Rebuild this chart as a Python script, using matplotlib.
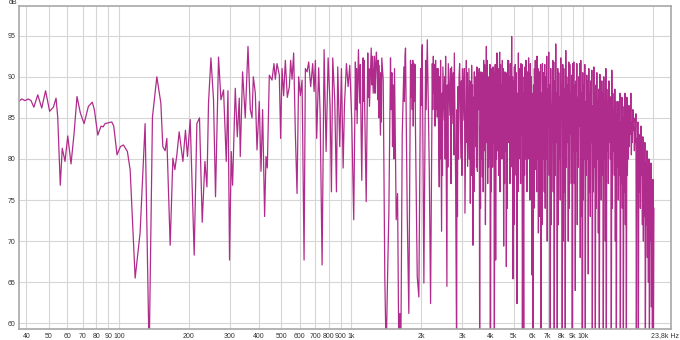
import matplotlib
matplotlib.use("Agg")
import matplotlib.pyplot as plt

plt.rcParams['font.family'] = ['Liberation Sans', 'DejaVu Sans']

# frequency response (Hz, dB)
low_hz = [37.2, 38.2, 39.5, 40.8, 41.9, 43.1, 44.8, 46.6, 48.4, 50.4, 52.3, 53.7,
          54.6, 56.0, 57.1, 58.7, 60.3, 62.3, 64.2, 66.1, 68.3, 70.9, 74.0, 76.9,
          78.5, 81.2, 83.9, 85.6, 87.3, 93.3, 95.1, 98.3, 101.6, 104.7, 108.9,
          111.9, 117.6, 123.5, 129.8, 135.1, 139.6, 145.8, 151.7, 154.7, 158.3,
          161.0, 166.4, 170.9, 174.3, 177.8, 181.9, 188.8, 193.6, 197.5, 202.9,
          211.1, 216.8, 222.5, 228.6, 234.8, 239.5, 243.3, 249.2, 255.7, 260.8,
          268.7, 275.2, 282.4, 290.1, 295.0, 299.7]
low_db = [87.0, 87.3, 87.1, 87.3, 87.1, 86.3, 87.8, 86.2, 88.3, 85.8, 86.3, 87.4,
          85.1, 76.8, 81.3, 79.7, 82.8, 79.4, 83.1, 87.6, 85.6, 84.3, 86.4, 86.9,
          86.0, 82.9, 84.0, 83.9, 84.3, 84.5, 84.0, 80.5, 81.5, 81.7, 80.9,
          78.7, 65.5, 71.0, 84.3, 56.0, 85.1, 90.0, 86.8, 81.5, 81.0,
          82.5, 69.5, 80.1, 78.7, 80.5, 83.3, 79.7, 83.5, 80.3, 84.8,
          68.3, 84.3, 85.0, 72.3, 79.7, 76.6, 86.8, 92.3, 87.2, 75.4,
          92.4, 87.2, 88.4, 79.7, 88.3, 67.7]

mid_hz = [304.8, 308.8, 317.2, 323.6, 330.0, 333.3, 341.0, 350.2, 359.8, 368.1,
          374.4, 379.3, 386.9, 393.4, 402.4, 409.3, 415.9, 424.2, 430.1, 435.7,
          444.4, 456.5, 465.6, 471.7, 479.7, 490.8, 497.2, 504.2, 512.3, 520.9,
          531.3, 542.1, 549.1, 556.8, 565.7, 575.3, 585.0, 594.4, 604.6, 614.9,
          627.2, 635.3, 646.1, 656.5, 669.8, 683.2, 692.7, 701.7, 710.8, 725.0,
          735.3, 749.9, 764.9, 780.2, 796.0, 811.9, 822.5, 833.2, 849.9, 864.5,
          875.7, 893.3, 908.3, 923.7, 935.6, 954.3, 970.7, 986.3, 1006, 1026,
          1043, 1061, 1075, 1089, 1111, 1126, 1144, 1161, 1179, 1199, 1220, 1244,
          1260, 1285, 1302, 1320, 1337, 1355, 1374, 1396, 1415, 1434, 1453, 1477,
          1507, 1537, 1563, 1584, 1604, 1620, 1636, 1659, 1686, 1714, 1743, 1771,
          1801, 1832, 1861, 1893, 1925, 1956, 1990, 2023, 2056, 2091, 2127, 2169,
          2197, 2235, 2270, 2309, 2348, 2395]
mid_db = [80.9, 76.8, 88.6, 82.7, 87.4, 80.3, 90.6, 85.0, 93.7, 86.0,
          85.0, 90.0, 88.0, 81.1, 87.0, 78.5, 86.0, 73.0, 80.3, 78.9,
          90.2, 89.6, 91.6, 89.7, 91.6, 90.2, 82.5, 91.0, 87.7, 92.0,
          87.5, 88.8, 92.0, 89.7, 92.9, 83.1, 75.8, 90.0, 87.7, 89.6,
          67.7, 91.0, 90.6, 91.8, 88.8, 91.6, 88.2, 92.0, 82.5, 91.1,
          85.6, 67.1, 93.3, 80.9, 92.3, 86.4, 76.0, 92.3, 87.2, 76.0,
          91.2, 81.5, 91.0, 78.9, 86.4, 91.6, 88.8, 91.4, 84.7, 72.6,
          91.8, 84.3, 93.3, 86.8, 77.4, 92.3, 86.0, 74.8, 92.9, 86.4, 93.5, 88.0,
          92.5, 93.0, 87.2, 91.4, 82.9, 92.3, 89.6, 65.5, 56.0, 65.4, 73.4, 92.3,
          81.5, 91.0, 72.6, 75.8, 56.0, 61.2, 56.0, 82.9, 91.2, 93.5, 73.4, 61.2,
          92.0, 86.0, 91.6, 82.7, 65.7, 63.2, 91.0, 93.9, 64.9, 92.0, 94.5, 78.7,
          62.4, 91.6, 88.0, 92.0, 85.1, 76.6]

# extra wiggles between 1k and 2.4k
mid_wiggle_hz = [1049, 1055, 1096, 1103, 1132, 1138, 1186, 1192,
                 1228, 1236, 1268, 1276, 1308, 1314, 1343, 1349,
                 1487, 1497, 1517, 1527, 1695, 1705, 1811, 1821,
                 1842, 1851, 1872, 1882, 2001, 2012, 2103, 2115,
                 2246, 2258, 2283, 2296, 2322, 2335, 2364, 2379,
                 2405, 2415]
mid_wiggle_db = [86.0, 91.0, 91.5, 84.0, 87.0, 92.0, 87.5, 91.0,
                 89.0, 92.5, 88.0, 91.5, 92.0, 85.0, 90.5, 84.5,
                 86.0, 90.5, 89.0, 80.0, 87.0, 92.5, 87.5, 91.5,
                 92.0, 84.0, 87.0, 91.5, 86.5, 92.0, 86.0, 90.5,
                 86.0, 92.5, 91.5, 84.0, 86.0, 91.0, 91.0, 83.0,
                 90.0, 80.0]

upper_hz = [2426, 2450, 2482, 2517, 2550, 2583, 2619, 2661, 2706, 2741, 2780,
            2816, 2844, 2881, 2930, 2968, 3010, 3058, 3089, 3132, 3172, 3213,
            3258, 3300, 3343, 3390, 3434, 3478, 3527, 3573, 3619, 3671, 3718,
            3767, 3819, 3869, 3919, 3974, 4025, 4077, 4135, 4188, 4242, 4301,
            4357, 4413, 4475, 4533, 4592, 4656, 4717, 4778, 4845, 4908, 4973,
            5042, 5108, 5174, 5246, 5314, 5383, 5459, 5492, 5530, 5602, 5680,
            5754, 5829, 5910, 5987, 6065, 6149, 6229, 6310, 6397, 6480, 6564,
            6656, 6763]
upper_db = [92.0, 71.2, 91.2, 84.7, 92.5, 64.5, 91.6, 85.3, 91.2, 84.3, 92.9,
            77.4, 56.0, 88.8, 91.6, 80.1, 91.0, 84.7, 73.4, 92.0, 79.1, 91.0,
            74.6, 91.4, 69.5, 90.6, 81.5, 91.2, 88.8, 56.0, 90.6, 77.8, 92.0,
            88.8, 93.7, 77.0, 88.8, 56.0, 83.9, 91.2, 56.0, 67.7, 92.9, 87.2,
            93.0, 84.7, 92.0, 69.4, 90.6, 66.9, 92.0, 84.7, 91.6, 94.9, 65.4,
            91.2, 83.5, 62.4, 92.9, 85.3, 91.6, 56.0, 88.0, 56.0, 91.2, 88.8,
            90.6, 84.7, 91.6, 65.9, 56.0, 91.0, 78.7, 92.5, 71.0, 90.6, 56.0,
            91.6, 84.7]

# extra wiggles between the readings above (2.4k - 6.8k is very busy)
wiggle_hz = [2461, 2471, 2528, 2539, 2595, 2607, 2676, 2691,
             2754, 2767, 2856, 2868, 2897, 2913, 2982, 2996,
             3068, 3078, 3145, 3158, 3228, 3243, 3272, 3286,
             3314, 3328, 3359, 3374, 3405, 3420, 3449, 3463,
             3494, 3511, 3542, 3558, 3588, 3604, 3636, 3654,
             3687, 3702, 3734, 3751, 3784, 3802, 3836, 3852,
             3886, 3902, 3937, 3956, 3991, 4008, 4042, 4060,
             4096, 4116, 4153, 4170, 4206, 4224, 4262, 4281,
             4320, 4338, 4376, 4394, 4434, 4454, 4494, 4514,
             4553, 4572, 4613, 4635, 4676, 4697, 4737, 4758,
             4800, 4822, 4866, 4887, 4930, 4951, 4996, 5019,
             5064, 5086, 5130, 5152, 5198, 5222, 5269, 5291,
             5337, 5360, 5408, 5434, 5554, 5578, 5628, 5654,
             5705, 5730, 5779, 5804, 5856, 5883, 5936, 5961,
             6013, 6039, 6093, 6121, 6176, 6202, 6256, 6283,
             6339, 6368, 6425, 6452, 6508, 6536, 6595, 6625,
             6692, 6728, 6778, 6794]
wiggle_db = [88.0, 78.0, 90.0, 80.0, 89.0, 79.0, 91.0, 77.0,
             90.5, 80.5, 86.0, 73.0, 80.0, 90.0, 89.5, 78.0,
             91.0, 86.0, 82.0, 90.5, 80.0, 89.5, 88.5, 78.0,
             80.0, 89.0, 87.5, 76.0, 83.0, 90.0, 89.5, 79.0,
             78.5, 90.5, 86.0, 91.0, 84.0, 74.0, 80.0, 89.0,
             90.5, 76.0, 81.0, 91.5, 72.0, 86.0, 82.0, 92.0,
             90.0, 79.0, 80.0, 91.5, 90.0, 76.0, 91.0, 79.0,
             82.0, 90.5, 89.0, 91.5, 88.0, 80.0, 81.0, 91.0,
             78.0, 89.5, 76.0, 91.5, 89.0, 80.0, 83.0, 91.0,
             88.5, 77.0, 81.0, 90.5, 89.0, 74.0, 82.0, 92.0,
             90.0, 77.0, 80.0, 86.0, 79.0, 90.0, 89.5, 72.0,
             78.0, 91.5, 90.5, 80.0, 88.0, 76.0, 80.0, 91.0,
             90.0, 77.0, 83.0, 91.5, 90.0, 78.0, 80.0, 92.0,
             76.0, 89.5, 80.0, 92.3, 90.5, 75.0, 82.0, 90.0,
             88.0, 78.0, 89.0, 74.0, 80.0, 92.0, 90.0, 76.0,
             80.0, 91.0, 89.5, 73.0, 82.0, 91.5, 88.0, 72.0,
             80.0, 90.5, 76.0, 89.0]

# dense top octaves: peaks and the troughs between them
peak_hz = [6810, 6878, 6947, 7016, 7086, 7156, 7228, 7300, 7373, 7447,
           7521, 7596, 7672, 7749, 7826, 7904, 7983, 8063, 8143, 8224,
           8306, 8389, 8473, 8557, 8643, 8729, 8817, 8905, 8994, 9083,
           9174, 9266, 9358, 9450, 9544, 9638, 9735, 9833, 9931, 10030,
           10130, 10230, 10330, 10430, 10540, 10650, 10750, 10860, 10970, 11080,
           11190, 11300, 11410, 11530, 11640, 11760, 11870, 11990, 12110, 12230,
           12350, 12480, 12600, 12730, 12860, 12990, 13110, 13240, 13370, 13510,
           13640, 13780, 13920, 14060, 14200, 14340, 14480, 14630, 14770, 14920,
           15070, 15220, 15370, 15530, 15680, 15840, 15990, 16150, 16310, 16480,
           16640, 16810, 16970, 17140, 17310, 17490, 17660, 17840, 18010, 18190,
           18370, 18560, 18740, 18930, 19120, 19320, 19510, 19700, 19900, 20090]
peak_db = [91.5, 90.0, 92.5, 88.5, 93.0, 89.0, 91.0, 86.5, 92.0, 91.8,
           89.5, 94.0, 88.0, 91.0, 90.5, 87.5, 92.3, 89.0, 91.5, 91.0,
           88.5, 93.2, 90.0, 89.0, 91.8, 91.5, 88.0, 90.2, 91.6, 91.8,
           89.0, 89.5, 91.6, 87.5, 90.0, 91.6, 92.0, 88.0, 90.5, 89.0,
           91.5, 87.0, 90.2, 89.5, 91.0, 88.0, 89.5, 90.8, 86.5, 91.2,
           88.0, 89.0, 90.5, 87.0, 88.5, 90.3, 86.0, 89.5, 88.0, 90.0,
           87.0, 91.0, 88.5, 86.5, 89.5, 87.6, 85.0, 90.8, 88.0, 86.0,
           88.5, 87.0, 85.5, 87.0, 86.0, 88.0, 84.5, 87.5, 86.4, 85.0,
           88.0, 86.0, 87.5, 84.0, 86.5, 85.5, 88.0, 84.5, 86.0, 85.0,
           83.9, 85.5, 82.5, 84.5, 83.0, 82.7, 84.0, 81.5, 82.7, 80.5,
           82.0, 79.5, 81.0, 79.0, 80.0, 78.0, 79.5, 76.0, 77.5, 74.0]
dip_hz = [6844, 6912, 6981, 7051, 7121, 7192, 7264, 7336, 7410, 7484,
          7558, 7634, 7710, 7787, 7865, 7943, 8023, 8103, 8183, 8265,
          8347, 8431, 8515, 8600, 8686, 8773, 8861, 8949, 9038, 9128,
          9220, 9312, 9404, 9497, 9591, 9686, 9784, 9882, 9980, 10080,
          10180, 10280, 10380, 10485, 10595, 10700, 10805, 10915, 11025, 11135,
          11245, 11355, 11470, 11585, 11700, 11815, 11930, 12050, 12170, 12290,
          12415, 12540, 12665, 12795, 12925, 13050, 13175, 13305, 13440, 13575,
          13710, 13850, 13990, 14130, 14270, 14410, 14555, 14700, 14845, 14995,
          15145, 15295, 15450, 15605, 15760, 15915, 16070, 16230, 16395, 16560,
          16725, 16890, 17055, 17225, 17400, 17575, 17750, 17925, 18100, 18280,
          18465, 18650, 18835, 19025, 19220, 19415, 19605, 19800, 19995]
dip_db = [74.0, 80.0, 70.0, 84.0, 78.0, 56.0, 72.0, 82.0, 76.0, 56.0,
          78.0, 82.0, 56.0, 72.0, 80.0, 75.0, 85.0, 56.0, 70.0, 76.0,
          56.0, 79.0, 82.0, 70.0, 74.0, 83.0, 77.0, 56.0, 81.0, 77.0,
          64.0, 81.0, 72.0, 79.0, 84.0, 68.0, 73.0, 56.0, 75.0, 80.0,
          56.0, 78.0, 80.0, 66.0, 76.0, 73.0, 82.0, 56.0, 76.0, 79.0,
          56.0, 74.0, 80.0, 71.0, 56.0, 82.0, 75.0, 78.0, 56.0, 80.0,
          70.0, 56.0, 81.0, 77.0, 82.0, 80.0, 56.0, 74.0, 81.0, 78.0,
          70.0, 56.0, 79.0, 75.0, 78.0, 56.0, 77.0, 74.0, 56.0, 76.0,
          72.0, 56.0, 78.0, 80.0, 81.5, 83.0, 80.5, 82.0, 83.5, 81.0,
          82.0, 56.0, 80.0, 56.0, 76.0, 74.0, 78.0, 72.0, 70.0, 73.0,
          56.0, 72.0, 68.0, 65.0, 56.0, 70.0, 62.0, 56.0, 56.0]

middle = sorted(zip(mid_hz + mid_wiggle_hz, mid_db + mid_wiggle_db))
busy = sorted(zip(upper_hz + wiggle_hz, upper_db + wiggle_db))
top = sorted(zip(peak_hz + dip_hz, peak_db + dip_db))
pairs = middle + busy + top
freq = low_hz + [p[0] for p in pairs]
spl = low_db + [p[1] for p in pairs]

x_ticks = [40, 50, 60, 70, 80, 90, 100, 200, 300, 400, 500, 600, 700, 800, 900,
           1000, 2000, 3000, 4000, 5000, 6000, 7000, 8000, 9000, 10000, 20000]
x_labels = ['40', '50', '60', '70', '80', '90', '100', '200', '300', '400', '500',
            '600', '700', '800', '900', '1k', '2k', '3k', '4k', '5k', '6k', '7k',
            '8k', '9k', '10k', '']
y_ticks = [60, 65, 70, 75, 80, 85, 90, 95]

fig = plt.figure(figsize=(6.8, 3.4), dpi=100)
ax = fig.add_axes([19 / 680, 1 - 329.3 / 340, 652 / 680, 323.6 / 340])

ax.semilogx(freq, spl, color='#b02c8c', linewidth=0.9)
ax.set_xlim(37.2, 23800)
ax.set_ylim(59.27, 98.65)

ax.set_xticks(x_ticks)
ax.set_xticklabels(x_labels)
ax.minorticks_off()
ax.set_yticks(y_ticks)
ax.tick_params(length=0, labelsize=5, colors='#333333', pad=2.5)
ax.grid(True, color='#d6d6d6', linewidth=0.8)
ax.set_axisbelow(True)
for s in ax.spines.values():
    s.set_color('#a8a8a8')
    s.set_linewidth(1.2)

fig.text(13 / 680, 1 - 3 / 340, 'dB', fontsize=5, color='#333333',
         ha='center', va='center')
fig.text(679 / 680, 1 - 336 / 340, '23,8k Hz', fontsize=5, color='#333333',
         ha='right', va='center')

plt.savefig('out.png', dpi=100, facecolor='white')
